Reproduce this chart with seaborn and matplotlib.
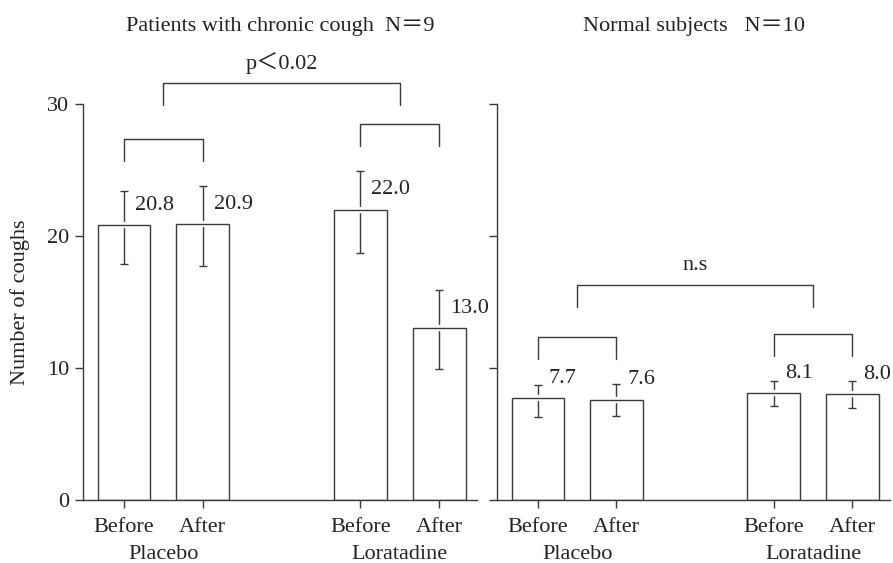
import numpy as np
import pandas as pd
import matplotlib
matplotlib.use("Agg")
import matplotlib.pyplot as plt
import matplotlib.patheffects as pe
import seaborn as sns

# ---------------- data ----------------
conditions = ["Before", "After", "Before", "After"]
treatments = ["Placebo", "Placebo", "Loratadine", "Loratadine"]

patients_mean = [20.8, 20.9, 22.0, 13.0]
patients_err_hi = [23.4, 23.8, 24.9, 15.9]
patients_err_lo = [17.9, 17.7, 18.7, 9.9]

normal_mean = [7.7, 7.6, 8.1, 8.0]
normal_err_hi = [8.7, 8.8, 9.0, 9.0]
normal_err_lo = [6.3, 6.4, 7.1, 7.0]

panel_titles = ["Patients with chronic cough  N\uff1d9", "Normal subjects   N\uff1d10"]
group_tests = ["p\uff1c0.02", "n.s"]
y_ticks = [0, 10, 20, 30]
y_label = "Number of coughs"

# ---------------- style ----------------
sns.set_theme(style="ticks")
plt.rcParams["font.family"] = ["Liberation Serif", "Noto Sans CJK JP", "DejaVu Sans"]
LC = "#3a3a3a"
TC = "#222222"
FS = 16
LW = 1.0

W, H = 893, 563
fig = plt.figure(figsize=(W / 100, H / 100), dpi=100)
y0px, unit = 63, 13.2
ytop = 37.5
axL = fig.add_axes([83 / W, y0px / H, (477 - 83) / W, ytop * unit / H])
axR = fig.add_axes([497 / W, y0px / H, (890 - 497) / W, ytop * unit / H])

order = ["Placebo Before", "Placebo After", "gap", "Loratadine Before", "Loratadine After"]


def draw_panel(ax, means, hi, lo, test, show_labels):
    keys = [f"{t} {c}" for t, c in zip(treatments, conditions)]
    df = pd.DataFrame({"key": keys, "value": means})
    sns.barplot(data=df, x="key", y="value", order=order, ax=ax,
                width=0.67, color="white", edgecolor=LC, linewidth=LW,
                errorbar=None, zorder=3)
    xs = np.array([order.index(k) for k in keys], dtype=float)
    m = np.array(means)
    yerr = [m - np.array(lo), np.array(hi) - m]
    ax.errorbar(xs, m, yerr=yerr, fmt="none", ecolor=LC, elinewidth=LW,
                capsize=3.2, capthick=LW, zorder=2)
    for p in ax.patches:
        p.set_facecolor("none")
        p.set_zorder(3)
        p.set_path_effects([pe.Stroke(linewidth=4.5, foreground="white"), pe.Normal()])

    # value labels
    for x, v in zip(xs, means):
        ax.text(x + 0.14, v + 1.5, f"{v:.1f}", ha="left", va="center",
                fontsize=FS, color=TC)

    # pair brackets
    for i in (0, 2):
        base = max(hi[i], hi[i + 1]) + 1.9
        top = base + 1.65
        ax.plot([xs[i], xs[i], xs[i + 1], xs[i + 1]], [base, top, top, base],
                color=LC, lw=LW, clip_on=False)
    # group bracket
    gx1 = (xs[0] + xs[1]) / 2
    gx2 = (xs[2] + xs[3]) / 2
    gbase = max(hi) + 5.0 if show_labels else max(hi) + 5.6
    gtop = gbase + 1.7
    ax.plot([gx1, gx1, gx2, gx2], [gbase, gtop, gtop, gbase], color=LC, lw=LW, clip_on=False)
    ax.text((gx1 + gx2) / 2, gtop + 1.5, test, ha="center", va="center",
            fontsize=FS, color=TC)

    # axes cosmetics
    ax.set_xlim(-0.52, 4.48)
    ax.set_ylim(0, ytop)
    ax.set_yticks(y_ticks)
    ax.set_xticks(xs)
    ax.set_xticklabels(conditions, fontsize=FS, color=TC)
    ax.set_xlabel("")
    ax.set_ylabel("")
    ax.tick_params(axis="both", direction="out", length=6, width=LW, color=LC,
                   labelsize=FS, labelcolor=TC, pad=4)
    ax.tick_params(axis="x", pad=7)
    for s in ("top", "right"):
        ax.spines[s].set_visible(False)
    for s in ("left", "bottom"):
        ax.spines[s].set_color(LC)
        ax.spines[s].set_linewidth(LW)
        ax.spines[s].set_zorder(5)
    ax.spines["left"].set_bounds(0, 30)
    if not show_labels:
        ax.set_yticklabels([])
    # group labels
    for gx, name in ((gx1, treatments[0]), (gx2, treatments[2])):
        ax.text(gx, -4.1, name, ha="center", va="center", fontsize=FS, color=TC,
                clip_on=False)
    ax.set_facecolor("white")
    ax.grid(False)


draw_panel(axL, patients_mean, patients_err_hi, patients_err_lo, group_tests[0], True)
draw_panel(axR, normal_mean, normal_err_hi, normal_err_lo, group_tests[1], False)

axL.set_ylabel(y_label, fontsize=FS, color=TC)
axL.yaxis.set_label_coords(-0.135, 15 / ytop)

for ax, t in ((axL, panel_titles[0]), (axR, panel_titles[1])):
    bb = ax.get_position()
    fig.text((bb.x0 + bb.x1) / 2, 1 - 27 / H, t, ha="center", va="center",
             fontsize=FS, color=TC)

fig.savefig("out.png", dpi=100, facecolor="white")
